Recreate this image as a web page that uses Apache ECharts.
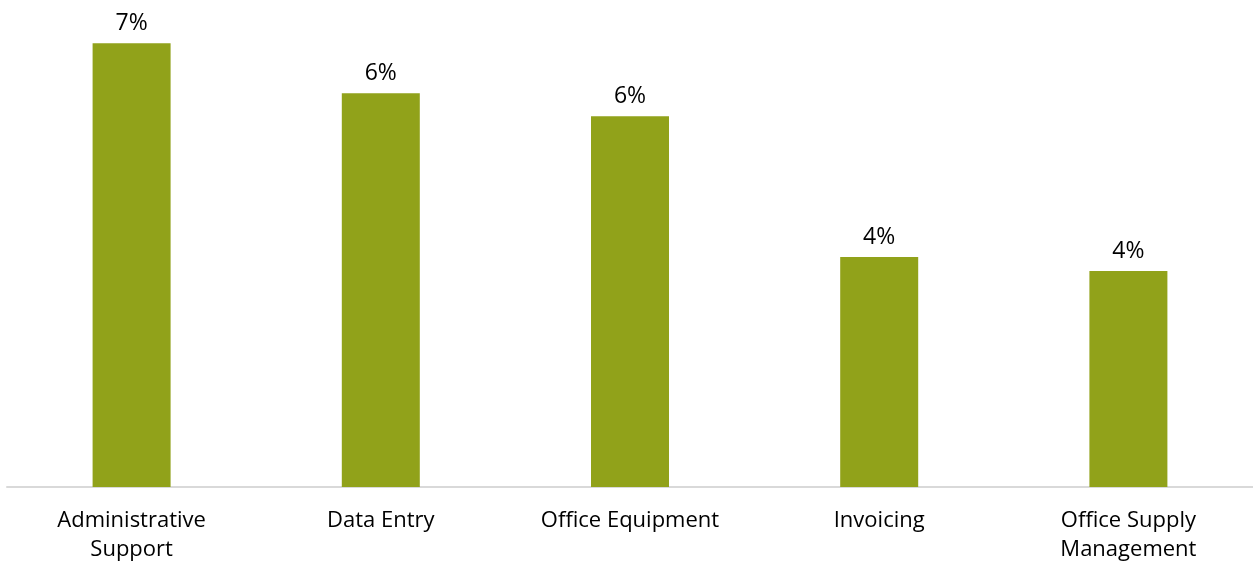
<!DOCTYPE html>
<html>
<head>
<meta charset="utf-8">
<script src="https://cdn.jsdelivr.net/npm/echarts@6/dist/echarts.min.js"></script>
<style>
html,body{margin:0;padding:0;background:#fff;}
#chart{width:1253px;height:569px;}
</style>
</head>
<body>
<div id="chart"></div>
<script>
var categories = ["Administrative\nSupport", "Data Entry", "Office Equipment", "Invoicing", "Office Supply\nManagement"];
var values = [7.29, 6.47, 6.09, 3.78, 3.55];

var chart = echarts.init(document.getElementById('chart'));
chart.setOption({
  animation: false,
  grid: {left: 7, width: 1247, top: 0, bottom: 82, containLabel: false},
  xAxis: {
    type: 'category',
    data: categories,
    axisLine: {show: true, lineStyle: {color: '#d9d9d9', width: 2}},
    axisTick: {show: false},
    axisLabel: {
      color: '#000', fontSize: 22, fontFamily: '"Open Sans", sans-serif',
      margin: 19, lineHeight: 29, interval: 0
    }
  },
  yAxis: {
    type: 'value', min: 0, max: 8,
    show: false, splitLine: {show: false}
  },
  series: [{
    type: 'bar',
    data: values,
    barWidth: 78,
    itemStyle: {color: '#91a21a'},
    label: {
      show: true, position: 'top', distance: 8,
      color: '#000', fontSize: 23, fontFamily: '"Open Sans", sans-serif',
      formatter: function(p){ return Math.round(p.value) + '%'; }
    }
  }]
});
</script>
</body>
</html>
